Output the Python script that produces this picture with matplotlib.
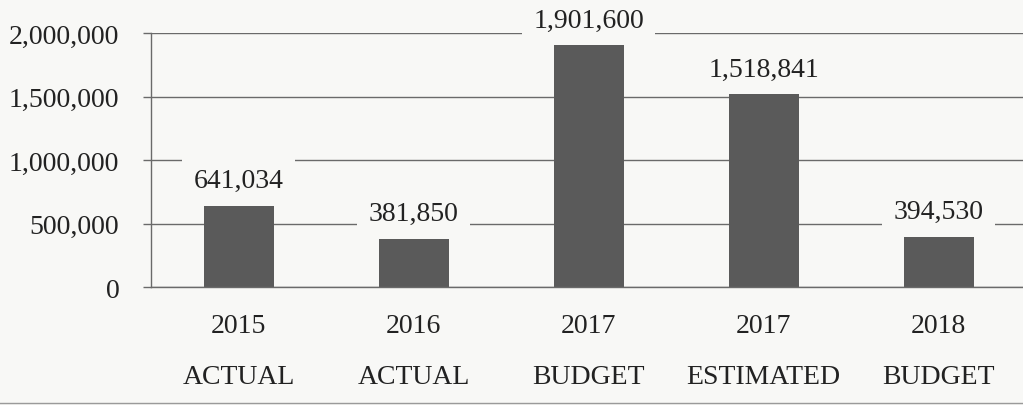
import matplotlib
matplotlib.use("Agg")
import matplotlib.pyplot as plt
from matplotlib.lines import Line2D
from matplotlib.ticker import FuncFormatter
from matplotlib.transforms import blended_transform_factory

years = ["2015", "2016", "2017", "2017", "2018"]
kinds = ["ACTUAL", "ACTUAL", "BUDGET", "ESTIMATED", "BUDGET"]
amounts = [641034, 381850, 1901600, 1518841, 394530]
y_ticks = [0, 500000, 1000000, 1500000, 2000000]

bg = "#f8f8f6"
bar_color = "#5a5a5a"
line_color = "#6a6a6a"
text_color = "#222222"

plt.rcParams["font.family"] = ["Liberation Serif", "DejaVu Serif"]
plt.rcParams["font.size"] = 20

fig = plt.figure(figsize=(10.23, 4.06), dpi=100, facecolor=bg)
W, H = 1023, 406
ax = fig.add_axes([151 / W, (H - 288) / H, 875 / W, 254 / H])
ax.set_facecolor(bg)

x = list(range(len(amounts)))
ax.bar(x, amounts, width=0.4, color=bar_color, zorder=2)

ax.set_xlim(-0.5, len(amounts) - 0.5)
ax.set_ylim(0, 2000000)
ax.set_yticks(y_ticks)
ax.yaxis.set_major_formatter(FuncFormatter(lambda v, p: f"{int(v):,}"))
ax.grid(axis="y", color=line_color, linewidth=1, zorder=0)
ax.set_axisbelow(True)

for s in ["top", "right"]:
    ax.spines[s].set_visible(False)
for s in ["left", "bottom"]:
    ax.spines[s].set_color(line_color)
    ax.spines[s].set_linewidth(1)

ax.tick_params(axis="y", length=5.8, width=1, color=line_color, pad=17,
               labelcolor=text_color)
ax.set_xticks(x)
ax.set_xticklabels(years, color=text_color)
ax.tick_params(axis="x", length=0, pad=19)

# second row of category labels under the years
trans = blended_transform_factory(ax.transData, ax.transAxes)
for xi, k in zip(x, kinds):
    ax.text(xi, -90 / 254, k, transform=trans, ha="center", va="center",
            color=text_color)

# value labels sit on a patch of background so gridlines break behind them
for xi, v in zip(x, amounts):
    ax.annotate(f"{v:,}", (xi, v), xytext=(0, 18), textcoords="offset points",
                ha="center", va="center", color=text_color,
                bbox=dict(boxstyle="square,pad=0.4", fc=bg, ec="none"),
                zorder=3)

fig.add_artist(Line2D([0, 1], [2 / H, 2 / H], color="#9a9a9a", linewidth=1))

fig.savefig("out.png", dpi=100, facecolor=bg)
